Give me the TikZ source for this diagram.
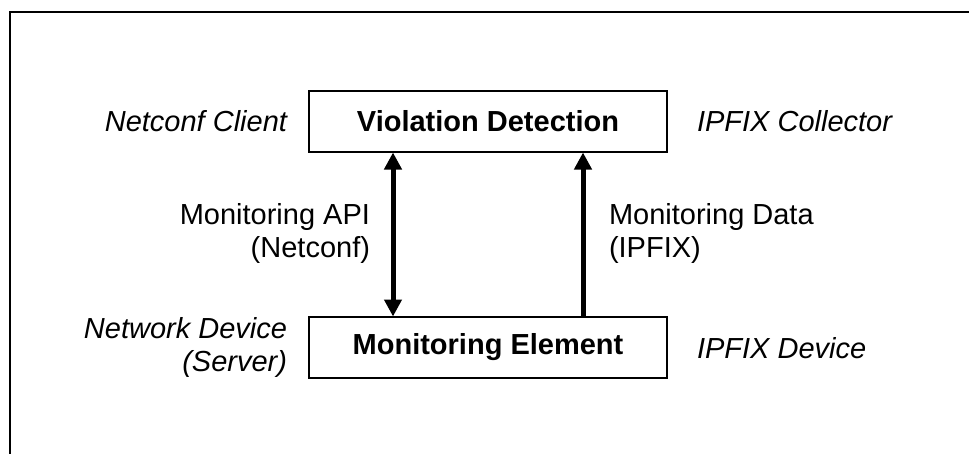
\documentclass[tikz,border=0pt]{standalone}
\usepackage{fontspec}
\setmainfont{Liberation Sans}
\usetikzlibrary{arrows.meta}
\begin{document}
\begin{tikzpicture}[x=1pt,y=-1pt,
  every node/.style={inner sep=0pt,outer sep=0pt,font=\fontsize{29}{33}\selectfont},
  block/.style={draw,line width=2pt,minimum width=358pt,minimum height=61pt,font=\fontsize{29}{33}\selectfont\bfseries},
  role/.style={font=\fontsize{29}{33}\selectfont\itshape},
  flow/.style={line width=5pt,-{Triangle[length=17pt,width=17pt]}},
  biflow/.style={line width=5pt,{Triangle[length=17pt,width=17pt]}-{Triangle[length=17pt,width=17pt]}}]
\useasboundingbox (0,0) rectangle (969,453);
% partial outer frame
\draw[line width=2pt] (10,454) -- (10,12) -- (970,12);
% blocks
\node[block] (vd) at (488,121.5) {Violation Detection};
\node[block] (me) at (488,347.5) {Monitoring Element};
% connectors
\coordinate (l1) at (393,152.5);
\coordinate (l2) at (393,316.5);
\coordinate (r1) at (583,152.5);
\coordinate (r2) at (583,316.5);
\draw[biflow] (l2) -- (l1);
\draw[flow] (r2) -- (r1);
% roles
\node[role,anchor=east] (nc) at (287,121) {Netconf Client};
\node[role,anchor=west] (ic) at (697,121) {IPFIX Collector};
\node[role,anchor=east,align=right] (nd) at (287,347) {Network Device\\(Server)};
\node[role,anchor=west] (id) at (697,348) {IPFIX Device};
% connector labels
\node[anchor=east,align=right] (api) at (370,233) {Monitoring API\\(Netconf)};
\node[anchor=west,align=left] (data) at (609,233) {Monitoring Data\\(IPFIX)};
\end{tikzpicture}
\end{document}
